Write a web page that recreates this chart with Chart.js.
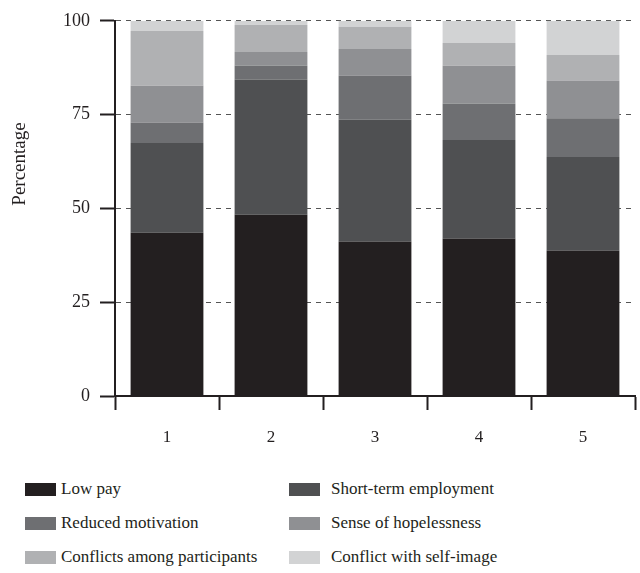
<!DOCTYPE html>
<html>
<head>
<meta charset="utf-8">
<script src="https://cdn.jsdelivr.net/npm/chart.js@4.4.1/dist/chart.umd.min.js"></script>
<style>
  html, body { margin: 0; padding: 0; background: #fff; }
  #wrap { position: relative; width: 640px; height: 573px; }
  #chart-box { position: absolute; left: 0; top: 0; width: 640px; height: 460px; }
  #legend {
    position: absolute; left: 25px; top: 476px;
    display: grid; grid-template-columns: 264px 300px; row-gap: 8px;
    font-family: "Liberation Serif", "Times New Roman", serif; font-size: 17px; color: #231f20;
  }
  .item { display: flex; align-items: center; height: 26px; }
  .swatch { width: 31px; height: 13px; margin-right: 11px; flex: none; }
  .item:nth-child(odd) .swatch { margin-right: 5px; }
</style>
</head>
<body>
<div id="wrap">
  <div id="chart-box"><canvas id="c"></canvas></div>
  <div id="legend"></div>
</div>
<script>
// stacked shares per group (each bar sums to ~100)
const GROUPS = ["1", "2", "3", "4", "5"];
const SERIES = ["Low pay", "Short-term employment", "Reduced motivation",
  "Sense of hopelessness", "Conflicts among participants", "Conflict with self-image"];

const lowPay         = [43.5, 48.3, 41.2, 42.0, 38.8];
const shortTerm      = [23.9, 36.0, 32.5, 26.2, 24.9];
const reducedMotiv   = [5.5, 3.7, 11.7, 9.7, 10.3];
const hopelessness   = [9.8, 3.7, 7.1, 10.1, 10.1];
const conflictsAmong = [14.6, 7.2, 5.9, 6.1, 6.8];
const selfImage      = [2.7, 1.1, 1.6, 5.9, 9.1];

const Y_TICKS = [0, 25, 50, 75, 100];

const COLORS = ["#231f20", "#4f5052", "#6e6f72", "#8f9093", "#b0b1b3", "#d2d3d4"];
const INK = "#231f20";
const FONT = "'Liberation Serif', 'Times New Roman', serif";

const seriesData = [lowPay, shortTerm, reducedMotiv, hopelessness, conflictsAmong, selfImage];

// rotated y title, placed where the original sits (not centred on the axis)
const yTitle = {
  id: "yTitle",
  afterDraw(chart) {
    const c = chart.ctx;
    c.save();
    c.translate(20, 164);
    c.rotate(-Math.PI / 2);
    c.font = "19px " + FONT;
    c.fillStyle = INK;
    c.textAlign = "center";
    c.textBaseline = "middle";
    c.fillText("Percentage", 0, 0);
    c.restore();
  }
};

const chart = new Chart(document.getElementById("c"), {
  type: "bar",
  data: {
    labels: GROUPS,
    datasets: SERIES.map((name, i) => ({
      label: name,
      data: seriesData[i],
      backgroundColor: COLORS[i],
      borderWidth: 0,
      barPercentage: 0.7,
      categoryPercentage: 1
    }))
  },
  options: {
    responsive: true,
    maintainAspectRatio: false,
    animation: false,
    layout: { padding: { top: 16, right: 5, left: 0, bottom: 0 } },
    plugins: { legend: { display: false }, tooltip: { enabled: false } },
    scales: {
      x: {
        stacked: true,
        afterFit(s) { s.height = 64; },
        grid: {
          offset: true, drawOnChartArea: false, drawTicks: true,
          tickLength: 14, tickWidth: 2, tickColor: INK
        },
        border: { color: INK, width: 2 },
        ticks: { color: INK, font: { family: FONT, size: 17 }, padding: 17 }
      },
      y: {
        stacked: true,
        min: 0, max: 100,
        afterFit(s) { s.width = 115; },
        afterBuildTicks(s) { s.ticks = Y_TICKS.map(v => ({ value: v })); },
        grid: {
          color: "#555", lineWidth: 1,
          tickLength: 15, tickWidth: 2, tickColor: INK
        },
        border: { color: INK, width: 2, dash: [5, 5] },
        ticks: { color: INK, font: { family: FONT, size: 18 }, padding: 10 }
      }
    }
  },
  plugins: [yTitle]
});

const legendEl = document.getElementById("legend");
SERIES.forEach((name, i) => {
  const item = document.createElement("div");
  item.className = "item";
  const sw = document.createElement("span");
  sw.className = "swatch";
  sw.style.background = COLORS[i];
  const txt = document.createElement("span");
  txt.textContent = name;
  item.appendChild(sw);
  item.appendChild(txt);
  legendEl.appendChild(item);
});
</script>
</body>
</html>
